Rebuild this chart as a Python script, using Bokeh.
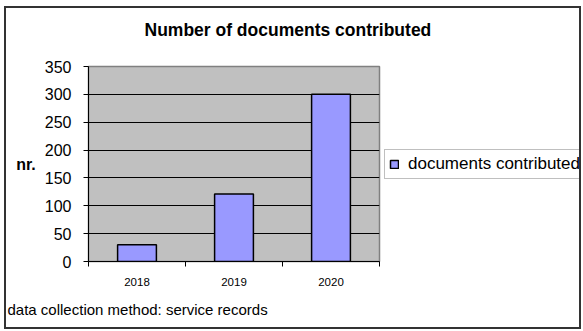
from bokeh.plotting import figure
from bokeh.models import (ColumnDataSource, FixedTicker, Range1d, Legend, LegendItem, Title)
from bokeh.layouts import column, row
from bokeh.embed import file_html
from bokeh.resources import INLINE

years = ["2018", "2019", "2020"]
documents = [30, 121, 300]
y_ticks = [0, 50, 100, 150, 200, 250, 300, 350]
title_text = "Number of documents contributed"
y_label = "nr."
series_name = "documents contributed"
footer_text = "data collection method: service records"

FONT = "Liberation Sans"
BAR_FILL = "#9999FF"
pos = [i + 0.5 for i in range(len(years))]
src = ColumnDataSource(dict(x=pos, top=documents, year=years))

# ---- title strip ----
pt = figure(width=573, height=50, output_backend="svg", toolbar_location=None,
            x_axis_location=None, y_axis_location=None,
            min_border_left=0, min_border_right=0, min_border_top=36, min_border_bottom=0)
pt.outline_line_color = None
pt.background_fill_color = "white"
pt.grid.visible = False
pt.add_layout(Title(text=title_text, align="left", offset=138, standoff=10,
                    text_font=FONT, text_font_size="17.5px", text_font_style="bold",
                    text_color="black"), "above")

# ---- main chart ----
p = figure(width=377, height=269, output_backend="svg", toolbar_location=None,
           x_range=Range1d(0, len(years)), y_range=Range1d(0, 350),
           min_border_left=82, min_border_right=4, min_border_top=8, min_border_bottom=64)
p.background_fill_color = "#C0C0C0"
p.border_fill_color = "white"
p.outline_line_color = "#808080"
p.outline_line_width = 1.5

r = p.vbar(x="x", top="top", width=0.4, source=src, fill_color=BAR_FILL,
           line_color="black", line_width=1.5)

p.xaxis.ticker = FixedTicker(ticks=pos, minor_ticks=list(range(len(years) + 1)))
p.xaxis.major_label_overrides = {p_: y for p_, y in zip(pos, years)}
p.xaxis.major_tick_line_color = None
p.xaxis.major_tick_out = 0
p.xaxis.major_tick_in = 0
p.xaxis.minor_tick_out = 5
p.xaxis.minor_tick_in = 0
p.xaxis.minor_tick_line_color = "black"
p.xaxis.axis_line_color = "black"
p.xaxis.major_label_text_font = FONT
p.xaxis.major_label_text_font_size = "11.5px"
p.xaxis.major_label_text_color = "black"
p.xaxis.major_label_standoff = 11

p.yaxis.ticker = FixedTicker(ticks=y_ticks, minor_ticks=[])
p.yaxis.major_tick_out = 5
p.yaxis.major_tick_in = 0
p.yaxis.major_tick_line_color = "black"
p.yaxis.axis_line_color = "black"
p.yaxis.major_label_text_font = FONT
p.yaxis.major_label_text_font_size = "16px"
p.yaxis.major_label_text_color = "black"
p.yaxis.major_label_standoff = 12
p.yaxis.axis_label = y_label
p.yaxis.axis_label_text_font = FONT
p.yaxis.axis_label_text_font_size = "16px"
p.yaxis.axis_label_text_font_style = "bold"
p.yaxis.axis_label_text_color = "black"
p.yaxis.axis_label_standoff = 6
if "axis_label_orientation" in p.yaxis[0].properties():
    p.yaxis.axis_label_orientation = "horizontal"

p.xgrid.grid_line_color = None
p.ygrid.ticker = FixedTicker(ticks=y_ticks[1:-1])
p.ygrid.grid_line_color = "black"
p.ygrid.grid_line_width = 1

p.add_layout(Title(text=footer_text, align="left", offset=-81, standoff=20,
                   text_font=FONT, text_font_size="15px", text_font_style="normal",
                   text_color="black"), "below")

# ---- legend panel (its series renderer is hidden; only the legend shows) ----
pl = figure(width=196, height=269, output_backend="svg", toolbar_location=None,
            x_axis_location=None, y_axis_location=None,
            x_range=Range1d(0, len(years)), y_range=Range1d(0, 350),
            min_border_left=0, min_border_right=0, min_border_top=8, min_border_bottom=64)
pl.outline_line_color = None
pl.background_fill_color = "white"
pl.grid.visible = False
lr = pl.vbar(x="x", top="top", width=0.4, source=src,
             fill_color=BAR_FILL, line_color="black", line_width=1.5)
lr.visible = False
legend = Legend(items=[LegendItem(label=series_name, renderers=[lr], index=0)],
                location=(1, 82), margin=0, padding=4,
                border_line_color="#808080", border_line_width=1.5,
                label_text_font=FONT, label_text_font_size="17px", label_text_color="black",
                glyph_width=10, glyph_height=10, label_standoff=9, label_height=17,
                spacing=0, background_fill_color="white", inactive_fill_alpha=0)
pl.add_layout(legend, "center")

layout = column(pt, row(p, pl), styles={"margin-left": "4px", "margin-top": "6px",
                                         "border": "2px solid #333"})

open("out.html", "w").write(file_html(layout, INLINE))
